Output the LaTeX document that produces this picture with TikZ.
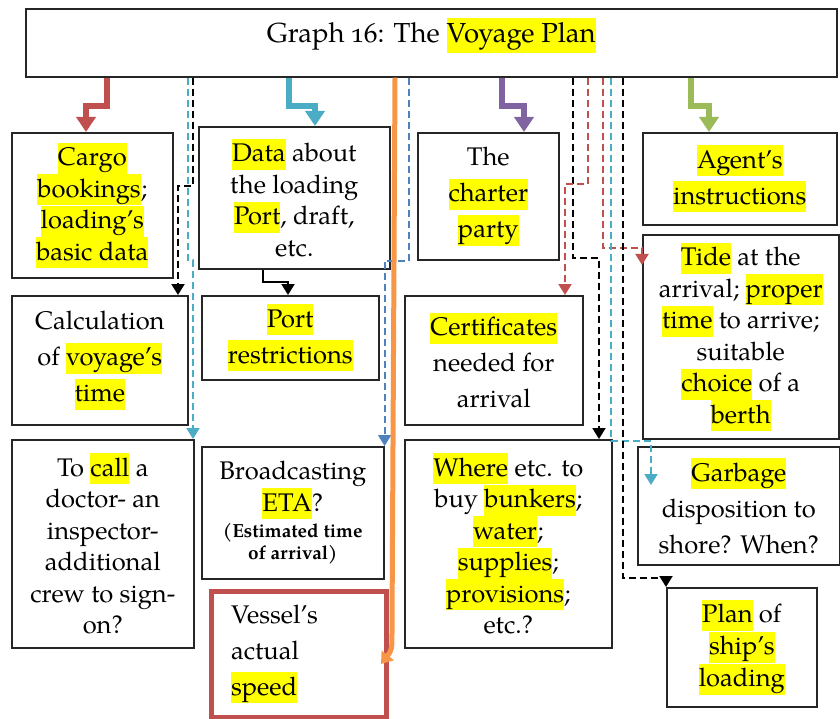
\documentclass[tikz,border=0pt]{standalone}
\usepackage{fontspec}
\setmainfont{TeX Gyre Pagella}[Numbers=OldStyle]
\usetikzlibrary{arrows.meta,calc}

\definecolor{hlyellow}{HTML}{FFFF00}
\definecolor{cred}{HTML}{C0504D}
\definecolor{ccyan}{HTML}{4BACC6}
\definecolor{cpurple}{HTML}{8064A2}
\definecolor{cgreen}{HTML}{9BBB59}
\definecolor{corange}{HTML}{F79646}
\definecolor{cblue}{HTML}{4F81BD}
\definecolor{boxline}{HTML}{262626}

% yellow marker behind a word
\newcommand\hl[1]{{\setlength{\fboxsep}{0pt}\colorbox{hlyellow}{\rule[-8pt]{0pt}{31pt}#1}}}
\newcommand\hlt[1]{{\setlength{\fboxsep}{0pt}\colorbox{hlyellow}{\rule[-10pt]{0pt}{35pt}#1}}}
\newcommand\bodyfont{\fontsize{25.5}{31.5}\selectfont}
\newcommand\widefont{\fontsize{25.5}{36}\selectfont}
\newcommand\notefont{\fontsize{19}{22}\selectfont\bfseries}

\tikzset{
  box/.style={draw=boxline, line width=1.6pt, inner sep=0pt, align=center,
              anchor=north west, font=\bodyfont},
  widebox/.style={box, font=\widefont},
  stepar/.style={line width=6pt, line join=miter,
                 -{Triangle[width=19pt,length=15pt]}},
  dasharr/.style={line width=2pt, dash pattern=on 7pt off 4pt,
                  -{Triangle[width=13pt,length=11pt]}},
}

\begin{document}
\begin{tikzpicture}[x=1pt,y=-1pt]
\useasboundingbox (0,0) rectangle (840,719);

% title
\node[box, minimum width=811pt, minimum height=68pt, font=\fontsize{27.5}{33}\selectfont]
  (title) at (25,8) {\smash{Graph 16: The \hlt{Voyage Plan}}};

% first row
\node[box, minimum width=161pt, minimum height=145pt] (cargo) at (11,132)
  {\hl{Cargo}\\\hl{bookings};\\\hl{loading’s}\\\hl{basic data}};
\node[box, minimum width=191pt, minimum height=142pt] (data) at (198,126)
  {\hl{Data} about\\the loading\\\hl{Port}, draft,\\etc.};
\node[widebox, minimum width=141pt, minimum height=127pt] (charter) at (417,132)
  {The\\\hl{charter}\\\hl{party}};
\node[widebox, minimum width=194pt, minimum height=92pt] (agent) at (642,132)
  {\hl{Agent’s}\\\hl{instructions}};

% second row
\node[widebox, minimum width=176pt, minimum height=129pt] (calc) at (11,295)
  {Calculation\\of \hl{voyage’s}\\\hl{time}};
\node[widebox, minimum width=177pt, minimum height=84pt] (portr) at (201,295)
  {\hl{Port}\\\hl{restrictions}};
\node[widebox, minimum width=178pt, minimum height=129pt] (cert) at (404,295)
  {\hl{Certificates}\\needed for\\arrival};
\node[box, minimum width=196pt, minimum height=204pt] (tide) at (642,234)
  {\hl{Tide} at the\\arrival; \hl{proper}\\\hl{time} to arrive;\\suitable\\\hl{choice} of a\\\hl{berth}};

% third row
\node[box, minimum width=182pt, minimum height=208pt] (call) at (11,439)
  {To \hl{call} a\\doctor- an\\inspector-\\additional\\crew to sign-\\on?};
\node[box, minimum width=182pt, minimum height=132pt] (bcast) at (201,446)
  {Broadcasting\\\hl{ETA}?\\[-5.5pt]\notefont(Estimated time\\[-9.5pt]\notefont of arrival)};
\node[box, draw=cred, line width=5pt, minimum width=175pt, minimum height=126pt,
      text width=135pt, align=left, font=\widefont]
  (vessel) at (208.5,588.5)
  {Vessel’s\\actual\\\hl{speed}};
\node[box, minimum width=207pt, minimum height=208pt] (where) at (404,439)
  {\hl{Where} etc. to\\buy \hl{bunkers};\\\hl{water};\\\hl{supplies};\\\hl{provisions};\\etc.?};
\node[box, minimum width=202pt, minimum height=118pt, font=\fontsize{25.5}{36}\selectfont]
  (garbage) at (637,446)
  {\hl{Garbage}\\disposition to\\shore? When?};
\node[box, minimum width=150pt, minimum height=119pt, font=\fontsize{25.5}{32}\selectfont]
  (plan) at (666,587)
  {\hl{Plan} of\\\hl{ship’s}\\\hl{loading}};

% thick stepped arrows from the title
\draw[stepar, cred]    (title.south -| 107,0) -- ++(0,28) -| (cargo.north -| 86,0);
\draw[stepar, ccyan]   (title.south -| 289,0) -- ++(0,28) -| (data.north -| 315,0);
\draw[stepar, cpurple] (title.south -| 502,0) -- ++(0,28) -| (charter.north -| 524,0);
\draw[stepar, cgreen]  (title.south -| 691,0) -- ++(0,28) -| (agent.north -| 709,0);

% dashed links, left side
\draw[dasharr, black] (title.south -| 193,0) -- (193,186) -| (calc.north -| 178,0);
\draw[dasharr, ccyan] (title.south -| 188,0) -- (188,260) -| (call.north -| 193,0);
\draw[dasharr, cblue] (title.south -| 409,0) -- (409,261) -| (bcast.north east);

% solid link between the two middle boxes
\draw[line width=2pt, -{Triangle[width=13pt,length=11pt]}]
  (data.south -| 263,0) -- ++(0,12) -| (portr.north -| 288,0);

% dashed links, right side
\draw[dasharr, black] (title.south -| 573,0) -- (573,258) -| (where.north -| 599,0);
\draw[dasharr, cred]  (title.south -| 588,0) -- (588,184) -| (cert.north -| 565,0);
\draw[dasharr, cred]  (title.south -| 603,0) -- (603,248) -| ($(tide.north west)+(0,31)$);
\draw[dasharr, ccyan] (title.south -| 611,0) -- (611,441) -| ($(garbage.north west)+(14,39)$);
\draw[dasharr, black] (title.south -| 623,0) -- (623,578) -| (plan.north west);

% orange line down to the speed box
\coordinate (orangeend) at (381,664);
\draw[corange, line width=5pt, -{Triangle[width=15pt,length=11pt]}]
  (title.south -| 395,0) -- (392,628) .. controls (392,650) .. (orangeend);
\end{tikzpicture}
\end{document}
